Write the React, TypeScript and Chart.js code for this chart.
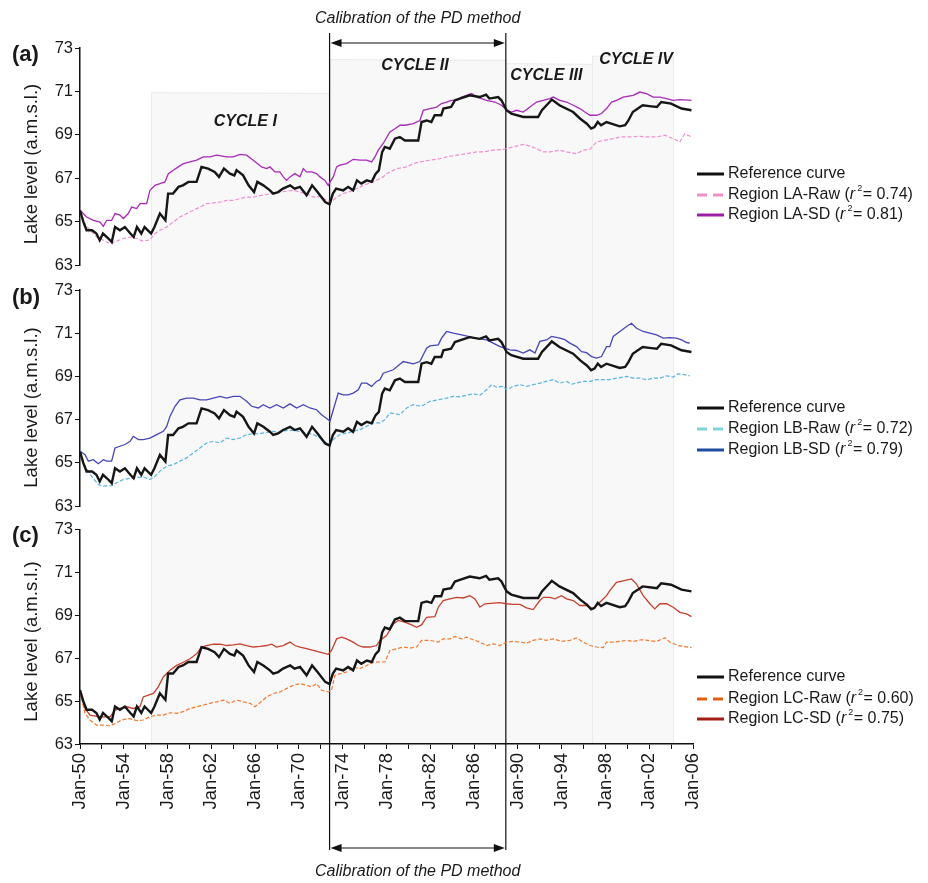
import { useEffect, useRef } from 'react';
import { Chart, registerables } from 'chart.js';

Chart.register(...registerables);

const FONT = '"Liberation Sans", Arial, Helvetica, sans-serif';
Chart.defaults.font.family = FONT;

// ---------- axis ticks ----------
const xTickYears = [1950, 1954, 1958, 1962, 1966, 1970, 1974, 1978, 1982, 1986, 1990, 1994, 1998, 2002, 2006];
const xTickLabels = ['Jan-50', 'Jan-54', 'Jan-58', 'Jan-62', 'Jan-66', 'Jan-70', 'Jan-74', 'Jan-78', 'Jan-82', 'Jan-86', 'Jan-90', 'Jan-94', 'Jan-98', 'Jan-02', 'Jan-06'];
const yAxisTitle = 'Lake level (a.m.s.l.)';

// ---------- reference curve (same in every panel) ----------
const refYears = [1950.0, 1950.3, 1950.6, 1951.1, 1951.5, 1951.8, 1952.1, 1952.6, 1952.9, 1953.2, 1953.65, 1954.1, 1954.6, 1954.9, 1955.2, 1955.6, 1955.9, 1956.2, 1956.5, 1956.8, 1957.3, 1957.8, 1958.05, 1958.5, 1959.0, 1959.4, 1959.9, 1960.65, 1961.1, 1961.7, 1962.3, 1962.7, 1963.15, 1963.7, 1964.1, 1964.3, 1964.9, 1965.4, 1965.9, 1966.2, 1966.75, 1967.35, 1967.65, 1968.1, 1968.55, 1969.2, 1969.6, 1970.1, 1970.7, 1971.2, 1971.7, 1972.4, 1972.8, 1973.1, 1973.4, 1974.05, 1974.5, 1974.95, 1975.3, 1975.7, 1976.2, 1976.65, 1977.0, 1977.3, 1977.6, 1977.85, 1978.3, 1978.77, 1979.22, 1979.68, 1980.9, 1981.2, 1981.66, 1982.1, 1982.4, 1983.0, 1983.2, 1983.9, 1984.25, 1984.7, 1985.6, 1986.5, 1987.1, 1987.4, 1988.2, 1988.5, 1988.97, 1989.4, 1990.5, 1991.85, 1992.2, 1992.9, 1993.1, 1993.8, 1995.05, 1995.7, 1996.3, 1996.7, 1997.0, 1997.3, 1997.6, 1998.1, 1999.3, 1999.8, 2000.1, 2000.5, 2001.4, 2002.2, 2002.7, 2003.1, 2004.0, 2004.95, 2005.86];
const refLevels = [65.52, 65.0, 64.6, 64.6, 64.45, 64.14, 64.45, 64.22, 64.06, 64.75, 64.6, 64.75, 64.45, 64.29, 64.75, 64.45, 64.75, 64.6, 64.45, 64.75, 65.37, 65.06, 66.29, 66.29, 66.6, 66.67, 66.83, 66.83, 67.52, 67.44, 67.29, 67.06, 67.44, 67.21, 67.13, 67.37, 67.13, 66.67, 66.36, 66.83, 66.67, 66.44, 66.29, 66.36, 66.52, 66.67, 66.52, 66.6, 66.21, 66.67, 66.36, 65.9, 65.8, 66.29, 66.52, 66.44, 66.6, 66.44, 66.9, 66.75, 66.9, 66.83, 67.2, 67.36, 68.2, 68.44, 68.36, 68.82, 68.9, 68.74, 68.74, 69.59, 69.66, 69.59, 69.9, 69.9, 70.21, 70.28, 70.59, 70.67, 70.82, 70.74, 70.85, 70.67, 70.74, 70.59, 70.13, 69.98, 69.82, 69.82, 70.13, 70.51, 70.62, 70.36, 70.05, 69.74, 69.51, 69.29, 69.36, 69.59, 69.44, 69.59, 69.39, 69.44, 69.66, 70.05, 70.36, 70.31, 70.28, 70.51, 70.44, 70.21, 70.13];

// ---------- panel (a): region LA ----------
const laRawYears = [1950.0, 1950.46, 1950.91, 1951.52, 1952.13, 1952.74, 1953.35, 1953.96, 1954.57, 1955.18, 1955.78, 1956.39, 1956.85, 1957.31, 1957.92, 1958.52, 1959.13, 1959.74, 1960.35, 1960.96, 1961.57, 1962.18, 1962.79, 1963.4, 1964.0, 1964.61, 1965.22, 1965.83, 1966.44, 1967.05, 1967.66, 1968.26, 1968.87, 1969.48, 1970.09, 1970.7, 1971.31, 1971.92, 1972.53, 1972.98, 1973.44, 1974.05, 1974.96, 1975.87, 1976.79, 1977.7, 1978.01, 1978.92, 1979.83, 1980.44, 1981.05, 1981.97, 1982.88, 1983.49, 1984.4, 1985.31, 1986.23, 1986.84, 1987.75, 1988.66, 1989.58, 1990.49, 1991.1, 1991.71, 1992.32, 1992.93, 1993.84, 1994.45, 1995.36, 1995.97, 1996.58, 1997.19, 1997.8, 1998.71, 1999.32, 2000.23, 2001.14, 2001.75, 2002.67, 2003.43, 2004.19, 2004.8, 2005.25, 2005.86];
const laRawLevels = [65.52, 64.9, 64.6, 64.29, 64.14, 63.98, 64.1, 64.22, 64.29, 64.22, 64.1, 64.16, 64.45, 64.6, 64.75, 64.98, 65.21, 65.37, 65.52, 65.67, 65.83, 65.86, 65.9, 65.98, 65.98, 66.06, 66.13, 66.13, 66.2, 66.25, 66.3, 66.36, 66.4, 66.44, 66.36, 66.29, 66.13, 66.16, 65.98, 65.9, 66.13, 66.29, 66.44, 66.67, 66.83, 67.06, 67.21, 67.44, 67.52, 67.67, 67.75, 67.83, 67.9, 67.98, 68.06, 68.13, 68.21, 68.21, 68.29, 68.33, 68.44, 68.56, 68.48, 68.36, 68.21, 68.21, 68.29, 68.21, 68.13, 68.29, 68.33, 68.67, 68.74, 68.82, 68.9, 68.9, 68.93, 68.9, 68.9, 68.98, 68.82, 68.67, 69.05, 68.9];
const laSdYears = [1950.0, 1950.61, 1951.22, 1951.83, 1952.13, 1952.44, 1952.89, 1953.2, 1953.65, 1953.96, 1954.41, 1954.72, 1955.18, 1955.48, 1956.09, 1956.39, 1956.85, 1957.31, 1957.76, 1958.07, 1958.52, 1958.98, 1959.44, 1960.05, 1960.66, 1961.26, 1961.87, 1962.48, 1963.4, 1964.0, 1964.61, 1965.22, 1965.83, 1966.59, 1967.05, 1967.35, 1967.81, 1968.26, 1968.57, 1968.87, 1969.18, 1969.63, 1970.09, 1970.4, 1970.7, 1971.16, 1971.61, 1971.92, 1972.37, 1972.68, 1972.83, 1973.14, 1973.44, 1973.74, 1974.35, 1974.96, 1975.57, 1976.18, 1976.64, 1976.94, 1977.25, 1977.7, 1978.31, 1978.77, 1979.23, 1979.68, 1980.44, 1981.05, 1981.36, 1981.97, 1982.58, 1983.03, 1983.49, 1983.94, 1984.4, 1984.86, 1985.31, 1985.77, 1986.23, 1986.68, 1987.14, 1987.9, 1988.51, 1988.97, 1989.42, 1989.88, 1990.49, 1991.1, 1991.71, 1992.32, 1992.93, 1993.23, 1993.84, 1994.45, 1995.06, 1995.66, 1996.12, 1996.58, 1997.19, 1997.64, 1998.1, 1998.56, 1999.01, 1999.62, 2000.54, 2001.14, 2001.75, 2002.36, 2002.97, 2003.58, 2004.19, 2004.8, 2005.86];
const laSdLevels = [65.52, 65.21, 65.06, 64.98, 64.78, 65.06, 65.06, 65.37, 65.3, 65.14, 65.37, 65.67, 65.6, 65.83, 65.83, 66.44, 66.67, 66.75, 66.83, 67.21, 67.37, 67.52, 67.67, 67.75, 67.83, 67.98, 67.98, 68.06, 67.98, 67.98, 68.1, 68.06, 67.83, 67.52, 67.44, 67.52, 67.29, 67.29, 67.06, 66.9, 67.06, 67.21, 67.06, 67.44, 67.29, 67.29, 67.21, 67.06, 66.9, 66.67, 66.82, 67.06, 67.52, 67.6, 67.67, 67.87, 67.83, 67.83, 67.75, 67.98, 68.29, 68.6, 69.13, 69.28, 69.44, 69.44, 69.52, 69.66, 70.13, 70.21, 70.28, 70.44, 70.51, 70.59, 70.59, 70.74, 70.82, 70.9, 70.74, 70.67, 70.59, 70.51, 70.36, 70.13, 70.05, 70.13, 70.05, 70.28, 70.51, 70.59, 70.67, 70.74, 70.59, 70.51, 70.36, 70.21, 70.05, 69.9, 69.9, 69.98, 70.21, 70.51, 70.59, 70.74, 70.82, 70.97, 70.9, 70.74, 70.74, 70.67, 70.59, 70.62, 70.59];

// ---------- panel (b): region LB ----------
const lbRawYears = [1950.0, 1950.46, 1951.07, 1951.67, 1952.13, 1952.89, 1953.35, 1953.96, 1954.87, 1955.78, 1956.39, 1956.85, 1957.31, 1957.92, 1958.52, 1959.13, 1959.74, 1960.35, 1960.96, 1961.57, 1962.18, 1962.79, 1963.4, 1964.0, 1964.61, 1965.22, 1965.83, 1966.44, 1967.05, 1967.66, 1968.26, 1968.87, 1969.48, 1970.09, 1970.7, 1971.31, 1971.92, 1972.68, 1973.14, 1973.74, 1974.35, 1974.96, 1975.57, 1976.18, 1976.79, 1977.4, 1977.86, 1978.31, 1979.23, 1979.84, 1980.44, 1981.2, 1981.97, 1982.73, 1983.49, 1984.1, 1984.71, 1985.31, 1985.92, 1986.53, 1987.14, 1987.6, 1988.05, 1988.66, 1988.97, 1989.58, 1990.19, 1990.79, 1991.4, 1992.01, 1992.62, 1993.23, 1993.84, 1994.45, 1994.9, 1995.36, 1995.97, 1996.58, 1997.19, 1998.4, 1999.01, 1999.93, 2000.54, 2001.14, 2001.75, 2002.36, 2002.97, 2003.58, 2004.19, 2004.64, 2005.25, 2005.71];
const lbRawLevels = [65.46, 64.85, 64.38, 64.0, 63.92, 63.95, 64.08, 64.23, 64.31, 64.35, 64.23, 64.38, 64.62, 64.85, 64.92, 65.08, 65.23, 65.46, 65.69, 65.92, 66.0, 65.92, 66.15, 66.08, 66.15, 66.31, 66.34, 66.35, 66.41, 66.46, 66.41, 66.5, 66.5, 66.46, 66.38, 66.31, 66.15, 65.85, 66.08, 66.31, 66.38, 66.46, 66.54, 66.69, 66.85, 66.85, 67.0, 67.31, 67.23, 67.54, 67.69, 67.62, 67.85, 67.92, 68.0, 68.08, 68.05, 68.13, 68.2, 68.13, 68.38, 68.62, 68.5, 68.54, 68.38, 68.54, 68.62, 68.54, 68.62, 68.69, 68.77, 68.85, 68.69, 68.77, 68.64, 68.69, 68.77, 68.77, 68.85, 68.85, 68.92, 69.0, 68.92, 68.92, 68.85, 68.92, 68.92, 69.03, 68.97, 69.12, 69.08, 69.03];
const lbSdYears = [1950.0, 1950.46, 1950.76, 1951.22, 1951.67, 1952.13, 1952.44, 1952.89, 1953.2, 1953.65, 1954.11, 1954.57, 1954.87, 1955.33, 1955.78, 1956.39, 1957.0, 1957.61, 1957.92, 1958.22, 1958.68, 1959.13, 1959.74, 1960.35, 1960.96, 1961.57, 1962.18, 1962.79, 1963.4, 1964.0, 1964.61, 1965.22, 1965.68, 1966.29, 1966.74, 1967.35, 1967.96, 1968.57, 1969.18, 1969.79, 1970.4, 1971.0, 1971.61, 1972.07, 1972.68, 1972.83, 1973.14, 1973.59, 1974.05, 1974.5, 1974.96, 1975.42, 1975.72, 1976.18, 1976.64, 1977.09, 1977.4, 1977.7, 1978.62, 1979.53, 1980.44, 1981.05, 1981.66, 1981.97, 1982.73, 1983.03, 1983.49, 1984.1, 1984.86, 1985.47, 1986.08, 1987.14, 1987.75, 1988.36, 1988.82, 1989.27, 1989.88, 1990.49, 1991.1, 1991.56, 1992.01, 1992.62, 1993.08, 1993.84, 1994.29, 1994.75, 1995.36, 1995.82, 1996.27, 1996.73, 1997.19, 1997.64, 1998.1, 1998.4, 1998.71, 1999.32, 1999.93, 2000.38, 2000.84, 2001.45, 2002.06, 2002.67, 2003.28, 2003.88, 2004.49, 2004.95, 2005.41, 2005.71];
const lbSdLevels = [65.54, 65.38, 65.08, 65.15, 64.96, 65.15, 65.08, 65.08, 65.69, 65.77, 65.85, 66.0, 66.23, 66.08, 66.08, 66.15, 66.31, 66.46, 66.69, 67.15, 67.62, 67.92, 68.0, 68.0, 67.92, 67.92, 68.0, 68.08, 68.0, 68.08, 68.08, 67.85, 67.62, 67.54, 67.69, 67.54, 67.69, 67.54, 67.73, 67.54, 67.69, 67.54, 67.46, 67.23, 67.0, 66.92, 67.46, 68.23, 68.15, 68.15, 68.23, 68.38, 68.69, 68.69, 68.54, 68.77, 68.85, 69.15, 69.31, 69.69, 69.58, 69.69, 70.31, 70.41, 70.46, 70.77, 71.08, 71.0, 70.92, 70.85, 70.77, 70.69, 70.54, 70.38, 70.31, 70.23, 70.2, 70.08, 70.23, 70.08, 70.62, 70.69, 70.85, 70.77, 70.7, 70.54, 70.38, 70.15, 70.1, 69.92, 69.85, 69.92, 70.38, 70.38, 70.85, 71.08, 71.31, 71.46, 71.23, 71.08, 71.0, 70.92, 70.77, 70.8, 70.77, 70.69, 70.57, 70.54];

// ---------- panel (c): region LC ----------
const lcRawYears = [1950.0, 1950.46, 1950.91, 1951.52, 1952.13, 1952.74, 1953.2, 1953.81, 1954.41, 1955.18, 1955.78, 1956.39, 1957.0, 1957.61, 1958.22, 1958.83, 1959.44, 1960.05, 1960.66, 1961.26, 1961.87, 1962.48, 1963.09, 1963.7, 1964.31, 1964.92, 1965.53, 1965.98, 1966.44, 1967.05, 1967.66, 1968.26, 1968.87, 1969.48, 1970.09, 1970.7, 1971.16, 1971.61, 1972.07, 1972.68, 1972.98, 1973.29, 1973.74, 1974.35, 1974.96, 1975.57, 1976.18, 1976.79, 1977.4, 1977.86, 1978.31, 1978.92, 1979.53, 1980.14, 1980.75, 1981.2, 1981.97, 1982.73, 1983.18, 1983.79, 1984.25, 1984.86, 1985.31, 1985.92, 1986.53, 1987.14, 1987.75, 1988.36, 1988.97, 1989.58, 1990.19, 1990.79, 1991.4, 1992.01, 1992.62, 1993.23, 1993.99, 1994.75, 1995.36, 1995.97, 1996.58, 1997.19, 1997.8, 1998.1, 1998.71, 1999.32, 1999.93, 2000.54, 2001.3, 2001.9, 2002.67, 2003.43, 2003.88, 2004.64, 2005.25, 2005.86];
const lcRawLevels = [65.43, 64.43, 64.12, 63.88, 63.88, 63.84, 63.95, 64.12, 64.2, 64.09, 64.12, 64.27, 64.35, 64.35, 64.46, 64.43, 64.51, 64.66, 64.74, 64.82, 64.9, 64.97, 65.05, 64.9, 65.05, 64.97, 64.9, 64.74, 64.93, 65.2, 65.36, 65.43, 65.59, 65.74, 65.82, 65.74, 65.67, 65.82, 65.51, 65.43, 65.51, 66.21, 66.28, 66.36, 66.6, 66.52, 66.67, 66.82, 66.83, 66.83, 67.37, 67.45, 67.53, 67.48, 67.53, 67.84, 67.84, 67.76, 67.91, 67.91, 68.02, 67.91, 67.99, 67.87, 67.76, 67.6, 67.68, 67.6, 67.76, 67.79, 67.76, 67.71, 67.84, 67.91, 67.84, 67.91, 67.79, 67.84, 67.95, 67.76, 67.6, 67.53, 67.5, 67.76, 67.76, 67.79, 67.84, 67.79, 67.87, 67.84, 67.79, 67.96, 67.76, 67.6, 67.55, 67.5];
const lcSdYears = [1950.0, 1950.46, 1950.91, 1951.83, 1952.74, 1953.2, 1953.65, 1954.26, 1954.87, 1955.48, 1955.78, 1956.24, 1956.7, 1957.15, 1957.61, 1958.22, 1958.83, 1959.44, 1960.05, 1960.66, 1961.11, 1961.57, 1962.18, 1962.79, 1963.4, 1964.0, 1964.61, 1965.22, 1965.83, 1966.44, 1967.05, 1967.5, 1967.96, 1968.57, 1969.18, 1969.63, 1970.09, 1970.7, 1971.31, 1971.92, 1972.68, 1972.98, 1973.44, 1973.9, 1974.35, 1974.96, 1975.42, 1975.87, 1976.48, 1977.09, 1977.4, 1978.01, 1978.62, 1979.07, 1979.68, 1980.29, 1980.75, 1981.2, 1981.66, 1982.42, 1982.73, 1983.18, 1983.79, 1984.4, 1985.01, 1985.62, 1986.08, 1986.53, 1986.99, 1987.75, 1988.36, 1988.97, 1989.58, 1990.19, 1990.79, 1991.4, 1992.01, 1992.32, 1992.93, 1993.38, 1993.99, 1994.45, 1995.06, 1995.66, 1996.27, 1996.88, 1997.49, 1998.1, 1998.4, 1999.01, 1999.62, 2000.38, 2000.84, 2001.45, 2002.06, 2002.51, 2002.97, 2003.58, 2004.19, 2004.8, 2005.41, 2005.86];
const lcSdLevels = [65.43, 64.66, 64.35, 64.27, 64.27, 64.58, 64.66, 64.74, 64.66, 64.74, 65.2, 65.28, 65.36, 65.67, 66.13, 66.44, 66.67, 66.82, 66.98, 67.22, 67.53, 67.6, 67.66, 67.66, 67.6, 67.63, 67.68, 67.6, 67.53, 67.56, 67.6, 67.66, 67.53, 67.6, 67.76, 67.6, 67.53, 67.46, 67.37, 67.29, 67.19, 67.37, 67.91, 67.99, 67.91, 67.76, 67.6, 67.53, 67.53, 67.6, 67.84, 68.07, 68.61, 68.77, 68.69, 68.56, 68.45, 68.56, 68.92, 68.95, 69.39, 69.7, 69.78, 69.85, 69.82, 69.93, 69.78, 69.39, 69.55, 69.58, 69.6, 69.55, 69.52, 69.52, 69.36, 69.28, 69.7, 69.85, 69.85, 69.78, 69.93, 69.78, 69.7, 69.47, 69.47, 69.31, 69.62, 69.93, 70.16, 70.55, 70.62, 70.71, 70.47, 69.93, 69.55, 69.31, 69.55, 69.55, 69.39, 69.15, 69.08, 68.95];

// ---------- annotations ----------
const calibStart = 1972.8;
const calibEnd = 1988.9;
const calibLabel = 'Calibration of the PD method';
const cycleNames = ['CYCLE I', 'CYCLE II', 'CYCLE III', 'CYCLE IV'];
const cycleStarts = [1956.5, 1972.8, 1988.9, 1996.8];
const cycleEnds = [1972.8, 1988.9, 1996.8, 2004.2];
const cycleTops = [70.94, 72.47, 72.28, 72.62];
const cycleLabelYears = [1965.1, 1980.6, 1992.6, 2000.8];
const cycleLabelLevels = [69.6, 72.18, 71.74, 72.48];

type Series = {
  name: string;
  r2: string | null;
  years: number[];
  levels: number[];
  color: string;
  legendColor: string;
  width: number;
  dash: number[];
};

const refSeries: Series = { name: 'Reference curve', r2: null, years: refYears, levels: refLevels, color: '#161616', legendColor: '#111111', width: 2.4, dash: [] };

type PanelCfg = {
  key: string;
  tag: string;
  top: number;
  height: number;
  padTop: number;
  padBottom: number;
  showX: boolean;
  series: Series[];
  legendY: number[];
  titleY: number;
  tagY: number;
};

const panels: PanelCfg[] = [
  {
    key: 'a', tag: '(a)', top: 0, height: 278, padTop: 48, padBottom: 13, showX: false,
    series: [
      refSeries,
      { name: 'Region LA-Raw', r2: '0.74', years: laRawYears, levels: laRawLevels, color: '#ee8fd2', legendColor: '#ef8fc9', width: 1.2, dash: [4, 2] },
      { name: 'Region LA-SD', r2: '0.81', years: laSdYears, levels: laSdLevels, color: '#a82ab8', legendColor: '#9c1faa', width: 1.3, dash: [] },
    ],
    legendY: [174, 195, 215], titleY: 164, tagY: 55,
  },
  {
    key: 'b', tag: '(b)', top: 278, height: 240, padTop: 12, padBottom: 11, showX: false,
    series: [
      refSeries,
      { name: 'Region LB-Raw', r2: '0.72', years: lbRawYears, levels: lbRawLevels, color: '#58b4e2', legendColor: '#7fd6d8', width: 1.2, dash: [4, 2] },
      { name: 'Region LB-SD', r2: '0.79', years: lbSdYears, levels: lbSdLevels, color: '#4646b6', legendColor: '#1f4e9e', width: 1.3, dash: [] },
    ],
    legendY: [130, 151, 172], titleY: 129.5, tagY: 20,
  },
  {
    key: 'c', tag: '(c)', top: 518, height: 365, padTop: 11, padBottom: 59, showX: true,
    series: [
      refSeries,
      { name: 'Region LC-Raw', r2: '0.60', years: lcRawYears, levels: lcRawLevels, color: '#f27a30', legendColor: '#e5600e', width: 1.2, dash: [4, 2] },
      { name: 'Region LC-SD', r2: '0.75', years: lcSdYears, levels: lcSdLevels, color: '#c6402e', legendColor: '#a31d16', width: 1.3, dash: [] },
    ],
    legendY: [159, 181, 201], titleY: 123.5, tagY: 18,
  },
];

// global (page) positions of the page-wide decorations
const VLINE_TOP = 33;
const VLINE_BOTTOM = 850;
const ARROW_TOP_Y = 43;
const ARROW_BOTTOM_Y = 848;
const LABEL_TOP_Y = 19;
const LABEL_BOTTOM_Y = 872;

function drawArrow(ctx: CanvasRenderingContext2D, x0: number, x1: number, y: number) {
  ctx.save();
  ctx.strokeStyle = '#111';
  ctx.fillStyle = '#111';
  ctx.lineWidth = 1.2;
  ctx.beginPath();
  ctx.moveTo(x0 + 4, y);
  ctx.lineTo(x1 - 4, y);
  ctx.stroke();
  const L = 11, H = 4;
  ctx.beginPath();
  ctx.moveTo(x0 + 1, y);
  ctx.lineTo(x0 + 1 + L, y - H);
  ctx.lineTo(x0 + 1 + L, y + H);
  ctx.closePath();
  ctx.fill();
  ctx.beginPath();
  ctx.moveTo(x1 - 1, y);
  ctx.lineTo(x1 - 1 - L, y - H);
  ctx.lineTo(x1 - 1 - L, y + H);
  ctx.closePath();
  ctx.fill();
  ctx.restore();
}

function drawLegendLabel(ctx: CanvasRenderingContext2D, x: number, y: number, s: Series) {
  ctx.font = `16px ${FONT}`;
  ctx.fillText(s.name, x, y);
  let w = ctx.measureText(s.name).width;
  if (s.r2) {
    const open = ' (';
    ctx.fillText(open, x + w, y);
    w += ctx.measureText(open).width;
    ctx.font = `italic 16px ${FONT}`;
    ctx.fillText('r', x + w, y);
    w += ctx.measureText('r').width + 2;
    ctx.font = `9px ${FONT}`;
    ctx.fillText('2', x + w, y - 6);
    w += ctx.measureText('2').width + 0.5;
    ctx.font = `16px ${FONT}`;
    ctx.fillText(`= ${s.r2})`, x + w, y);
  }
}

function makePlugin(p: PanelCfg) {
  return {
    id: 'decor' + p.key,
    beforeDraw(chart: any) {
      const ctx: CanvasRenderingContext2D = chart.ctx;
      const xs = chart.scales.x;
      const ys = chart.scales.y;
      const area = chart.chartArea;
      ctx.save();
      for (let i = 0; i < cycleNames.length; i++) {
        const x0 = xs.getPixelForValue(cycleStarts[i]);
        const x1 = xs.getPixelForValue(cycleEnds[i]);
        const yTop = p.key === 'a' ? ys.getPixelForValue(cycleTops[i]) : 0;
        const yBot = p.showX ? area.bottom : p.height;
        ctx.fillStyle = '#f8f8f8';
        ctx.fillRect(x0, yTop, x1 - x0, yBot - yTop);
        ctx.strokeStyle = '#ebebeb';
        ctx.lineWidth = 1;
        ctx.beginPath();
        ctx.moveTo(Math.round(x0) + 0.5, yBot);
        ctx.lineTo(Math.round(x0) + 0.5, yTop);
        if (p.key === 'a') ctx.lineTo(x1, Math.round(yTop) + 0.5);
        else ctx.moveTo(x1, yTop);
        ctx.moveTo(Math.round(x1) + 0.5, yTop);
        ctx.lineTo(Math.round(x1) + 0.5, yBot);
        ctx.stroke();
      }
      ctx.restore();
    },
    beforeDatasetsDraw(chart: any) {
      const ctx: CanvasRenderingContext2D = chart.ctx;
      const xs = chart.scales.x;
      ctx.save();
      ctx.translate(0, -p.top);
      ctx.strokeStyle = '#111';
      ctx.lineWidth = 1.2;
      for (const t of [calibStart, calibEnd]) {
        const x = xs.getPixelForValue(t);
        ctx.beginPath();
        ctx.moveTo(x, VLINE_TOP);
        ctx.lineTo(x, VLINE_BOTTOM);
        ctx.stroke();
      }
      ctx.restore();
    },
    afterDraw(chart: any) {
      const ctx: CanvasRenderingContext2D = chart.ctx;
      const xs = chart.scales.x;
      const ys = chart.scales.y;
      const xa = xs.getPixelForValue(calibStart);
      const xb = xs.getPixelForValue(calibEnd);
      ctx.save();
      ctx.fillStyle = '#1a1a1a';
      // y-axis title
      ctx.save();
      ctx.translate(32, p.titleY);
      ctx.rotate(-Math.PI / 2);
      ctx.font = `18.5px ${FONT}`;
      ctx.textAlign = 'center';
      ctx.textBaseline = 'middle';
      ctx.fillText(yAxisTitle, 0, 0);
      ctx.restore();
      // panel tag
      ctx.font = `bold 22px ${FONT}`;
      ctx.textAlign = 'left';
      ctx.textBaseline = 'middle';
      ctx.fillText(p.tag, 12, p.tagY);
      // legend
      for (let i = 0; i < p.series.length; i++) {
        const s = p.series[i];
        const y = p.legendY[i];
        ctx.save();
        ctx.strokeStyle = s.legendColor;
        ctx.lineWidth = 3;
        ctx.setLineDash(s.dash.length ? [10, 6] : []);
        ctx.beginPath();
        ctx.moveTo(697, y);
        ctx.lineTo(724, y);
        ctx.stroke();
        ctx.restore();
        ctx.textAlign = 'left';
        ctx.textBaseline = 'middle';
        ctx.fillStyle = '#1a1a1a';
        drawLegendLabel(ctx, 728, y, s);
      }
      // global annotations
      ctx.translate(0, -p.top);
      ctx.textAlign = 'center';
      ctx.textBaseline = 'middle';
      if (p.key === 'a') {
        ctx.font = `italic 16px ${FONT}`;
        ctx.fillText(calibLabel, (xa + xb) / 2, LABEL_TOP_Y);
        drawArrow(ctx, xa, xb, ARROW_TOP_Y);
        ctx.font = `italic bold 16px ${FONT}`;
        for (let i = 0; i < cycleNames.length; i++) {
          ctx.fillText(cycleNames[i], xs.getPixelForValue(cycleLabelYears[i]), ys.getPixelForValue(cycleLabelLevels[i]) + p.top);
        }
      }
      if (p.showX) {
        ctx.font = `italic 16px ${FONT}`;
        ctx.fillText(calibLabel, (xa + xb) / 2, LABEL_BOTTOM_Y);
        drawArrow(ctx, xa, xb, ARROW_BOTTOM_Y);
      }
      ctx.restore();
    },
  };
}

function makeConfig(p: PanelCfg): any {
  const datasets = p.series.map((s) => ({
    label: s.name,
    data: s.years.map((x, i) => ({ x, y: s.levels[i] })),
    borderColor: s.color,
    backgroundColor: s.color,
    borderWidth: s.width,
    borderDash: s.dash,
    pointRadius: 0,
    fill: false,
    tension: 0,
  }));
  return {
    type: 'line',
    data: { datasets },
    plugins: [makePlugin(p)],
    options: {
      responsive: false,
      animation: false,
      devicePixelRatio: 1,
      layout: { padding: { left: 0, right: 235, top: p.padTop, bottom: p.padBottom } },
      plugins: { legend: { display: false }, tooltip: { enabled: false }, title: { display: false } },
      scales: {
        x: {
          type: 'linear',
          min: 1950,
          max: 2006,
          display: p.showX,
          afterFit: p.showX ? (s: any) => { s.height = 80; } : undefined,
          ticks: {
            stepSize: 2,
            autoSkip: false,
            maxRotation: 90,
            minRotation: 90,
            padding: 4,
            color: '#1a1a1a',
            font: { size: 18.5, family: FONT },
            callback: (v: number) => {
              const i = xTickYears.indexOf(Math.round(v));
              return i >= 0 ? xTickLabels[i] : '';
            },
          },
          grid: { display: true, drawOnChartArea: false, drawTicks: true, tickLength: 5, color: '#111', lineWidth: 1 },
          border: { display: true, color: '#111', width: 1.5 },
        },
        y: {
          type: 'linear',
          min: 63,
          max: 73,
          afterFit: (s: any) => { s.width = 80; },
          ticks: { stepSize: 2, padding: 2, color: '#1a1a1a', font: { size: 16.5, family: FONT } },
          grid: { display: true, drawOnChartArea: false, drawTicks: true, tickLength: 5, color: '#111', lineWidth: 1 },
          border: { display: true, color: '#111', width: 1.5 },
        },
      },
    },
  };
}

function Panel({ p }: { p: PanelCfg }) {
  const ref = useRef<HTMLCanvasElement | null>(null);
  useEffect(() => {
    if (!ref.current) return;
    const chart = new Chart(ref.current, makeConfig(p));
    return () => chart.destroy();
  }, [p]);
  return (
    <canvas
      ref={ref}
      width={928}
      height={p.height}
      style={{ position: 'absolute', left: 0, top: p.top, width: 928, height: p.height, display: 'block' }}
    />
  );
}

export default function App() {
  return (
    <div style={{ position: 'absolute', left: 0, top: 0, width: 928, height: 883, background: '#ffffff', overflow: 'hidden' }}>
      {panels.map((p) => (
        <Panel key={p.key} p={p} />
      ))}
    </div>
  );
}
